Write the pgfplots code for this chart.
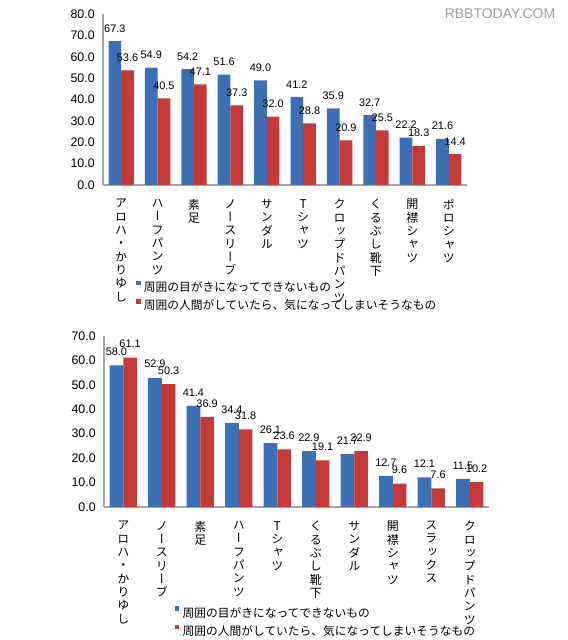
\documentclass[border=0pt]{standalone}
\usepackage{fontspec}
\setmainfont{Liberation Sans}
\newfontfamily\jp{Noto Sans CJK JP}
\newfontfamily\jpv{Noto Sans CJK JP}[RawFeature=+vert]
\usepackage{pgfplots}
\pgfplotsset{compat=1.18}
\definecolor{barblue}{HTML}{3B70B7}
\definecolor{barred}{HTML}{C53A36}
\definecolor{axgray}{HTML}{A6A6A6}
\pgfplotsset{
 mybars/.style={
   ybar=0pt, scale only axis, axis x line=bottom, axis y line=left,
   axis line style={-, draw=axgray, line width=0.8pt},
   major tick length=0pt, xmin=-0.5, xmax=9.5, xtick={0,...,9}, ymin=0,
   clip=false,
   yticklabel style={font=\fontsize{9.3}{10}\selectfont, anchor=east, inner sep=0pt, xshift=-6pt, /pgf/number format/.cd, fixed, fixed zerofill, precision=1, assume math mode=true},
   xticklabel style={font=\jpv\fontsize{9}{10}\selectfont, align=center, anchor=north, inner sep=0pt, yshift=-10.5pt},
   nodes near coords={\pgfmathprintnumber[fixed,fixed zerofill,precision=1,assume math mode=true]{\pgfplotspointmeta}},
   every node near coord/.append style={font=\fontsize{8.2}{9}\selectfont, inner sep=0pt, black},
   legend image code/.code={\fill[##1] (0pt,2pt) rectangle (3.2pt,5.2pt);},
   legend style={draw=none, fill=none, anchor=north west, font=\jp\fontsize{8.8}{10}\selectfont, nodes={inner sep=0pt, text height=7.5pt, text depth=2pt}, row sep=4pt, column sep=2.5pt, inner sep=0pt},
   legend cell align=left,
 }
}
\begin{document}
\begin{tikzpicture}
\path[use as bounding box] (0,0) rectangle (426pt,480pt);
\node[font=\fontsize{10.5}{12}\selectfont, text=gray!75, anchor=center] at (375pt,470pt) {RBBTODAY.COM};
\begin{axis}[mybars, at={(77.25pt,341.25pt)}, anchor=south west, width=273pt, height=128.25pt,
  ymax=80, ytick={0,10,...,80}, bar width=9.5pt,
  every node near coord/.append style={yshift=6.5pt},
  xticklabels={{ア\\ロ\\ハ\\・\\か\\り\\ゆ\\し},{ハ\\ー\\フ\\パ\\ン\\ツ},{素\\足},{ノ\\ー\\ス\\リ\\ー\\ブ},{サ\\ン\\ダ\\ル},{T\\シ\\ャ\\ツ},{ク\\ロ\\ッ\\プ\\ド\\パ\\ン\\ツ},{く\\る\\ぶ\\し\\靴\\下},{開\\襟\\シ\\ャ\\ツ},{ポ\\ロ\\シ\\ャ\\ツ}},
  legend style={at={(0.0907,-0.558)}}]
\addplot[fill=barblue, draw=none] coordinates {(0,67.3) (1,54.9) (2,54.2) (3,51.6) (4,49.0) (5,41.2) (6,35.9) (7,32.7) (8,22.2) (9,21.6)};
\addplot[fill=barred, draw=none] coordinates {(0,53.6) (1,40.5) (2,47.1) (3,37.3) (4,32.0) (5,28.8) (6,20.9) (7,25.5) (8,18.3) (9,14.4)};
\addlegendentry{周囲の目がきになってできないもの}
\addlegendentry{周囲の人間がしていたら、気になってしまいそうなもの}
\end{axis}
\begin{axis}[mybars, at={(78pt,99.75pt)}, anchor=south west, width=288.75pt, height=128.25pt,
  ymax=70, ytick={0,10,...,70}, bar width=10.25pt,
  every node near coord/.append style={yshift=7.1pt},
  xticklabels={{ア\\ロ\\ハ\\・\\か\\り\\ゆ\\し},{ノ\\ー\\ス\\リ\\ー\\ブ},{素\\足},{ハ\\ー\\フ\\パ\\ン\\ツ},{T\\シ\\ャ\\ツ},{く\\る\\ぶ\\し\\靴\\下},{サ\\ン\\ダ\\ル},{開\\襟\\シ\\ャ\\ツ},{ス\\ラ\\ッ\\ク\\ス},{ク\\ロ\\ッ\\プ\\ド\\パ\\ン\\ツ}},
  legend style={at={(0.184,-0.580)}}]
\addplot[fill=barblue, draw=none] coordinates {(0,58.0) (1,52.9) (2,41.4) (3,34.4) (4,26.1) (5,22.9) (6,21.7) (7,12.7) (8,12.1) (9,11.5)};
\addplot[fill=barred, draw=none] coordinates {(0,61.1) (1,50.3) (2,36.9) (3,31.8) (4,23.6) (5,19.1) (6,22.9) (7,9.6) (8,7.6) (9,10.2)};
\addlegendentry{周囲の目がきになってできないもの}
\addlegendentry{周囲の人間がしていたら、気になってしまいそうなもの}
\end{axis}
\end{tikzpicture}
\end{document}
